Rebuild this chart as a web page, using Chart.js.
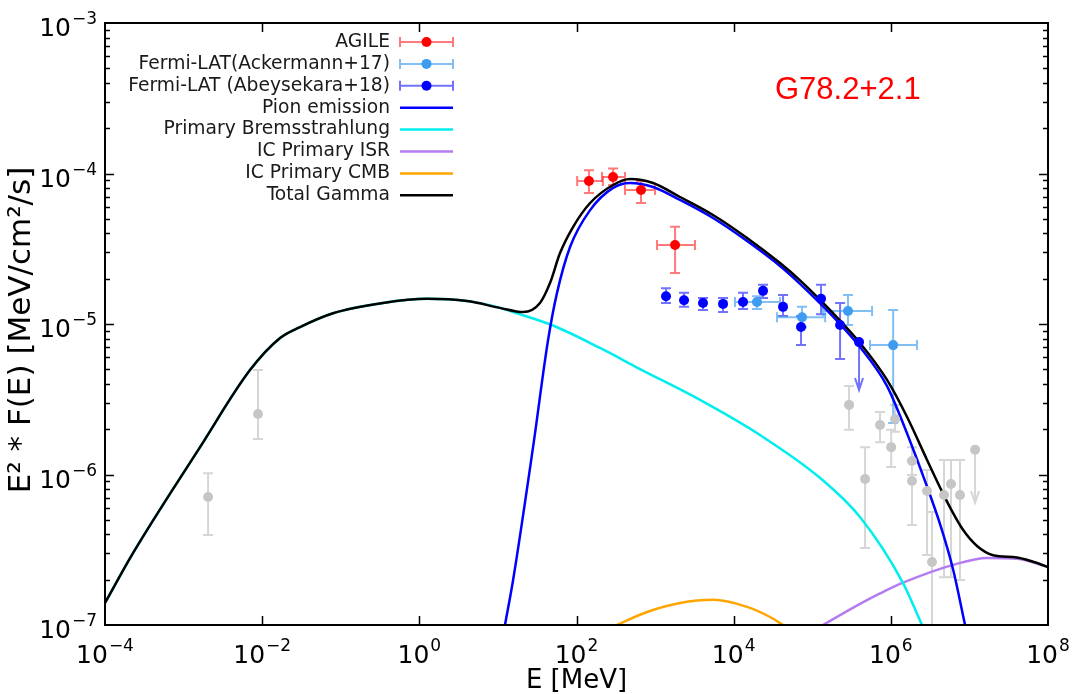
<!DOCTYPE html>
<html>
<head>
<meta charset="utf-8">
<title>G78.2+2.1 SED</title>
<script src="https://cdn.jsdelivr.net/npm/chart.js@4.4.1/dist/chart.umd.min.js"></script>
<style>
  html, body { margin: 0; padding: 0; background: #fff; }
</style>
</head>
<body>
<canvas id="sed" width="1082" height="694"></canvas>
<script>
// ---- model curves (E in MeV, E^2 F(E) in MeV/cm2/s) ----
const totalE = [1e-4, 2.27e-4, 1.62e-3, 7.0e-3, 1.69e-2, 3.03e-2, 7.98e-2, 0.345, 1.25, 4.05, 10.6, 20.9, 34.3, 46, 61.7, 90.3, 149, 292, 480, 942, 2076, 5460, 1.48e4, 3.89e4, 6.99e4, 1.84e5, 4.05e5, 8.95e5, 1.61e6, 2.89e6, 4.23e6, 5.67e6, 8.29e6, 1.25e7, 2.0e7, 4.03e7, 6.45e7, 1e8];
const totalF = [1.40e-7, 3.0e-7, 1.52e-6, 4.94e-6, 8.07e-6, 9.55e-6, 1.18e-5, 1.38e-5, 1.47e-5, 1.42e-5, 1.28e-5, 1.20e-5, 1.38e-5, 1.87e-5, 2.96e-5, 4.41e-5, 6.37e-5, 8.39e-5, 9.19e-5, 8.65e-5, 6.98e-5, 5.30e-5, 3.73e-5, 2.54e-5, 1.95e-5, 1.18e-5, 7.48e-6, 4.25e-6, 2.41e-6, 1.25e-6, 8.2e-7, 6.04e-7, 4.29e-7, 3.35e-7, 2.91e-7, 2.81e-7, 2.63e-7, 2.43e-7];

const pionE = [12.3, 15.6, 28.0, 43.5, 56.5, 82.8, 149, 292, 480, 942, 2076, 5460, 1.48e4, 3.89e4, 6.99e4, 1.84e5, 4.05e5, 8.95e5, 1.43e6, 2.89e6, 4.23e6, 6.2e6, 8.8e6];
const pionF = [1e-7, 1.99e-7, 1.52e-6, 7.84e-6, 1.61e-5, 3.25e-5, 5.71e-5, 8.02e-5, 8.65e-5, 8.13e-5, 6.67e-5, 5.06e-5, 3.56e-5, 2.43e-5, 1.85e-5, 1.12e-5, 7.03e-6, 3.87e-6, 2.19e-6, 8.3e-7, 4.68e-7, 2.34e-7, 1e-7];

const bremsE = [1e-4, 2.27e-4, 1.62e-3, 7.0e-3, 1.69e-2, 3.03e-2, 7.98e-2, 0.345, 1.25, 4.05, 10.6, 15.6, 50.2, 199, 643, 3733, 2.16e4, 1.26e5, 4.05e5, 1.43e6, 2.49e6];
const bremsF = [1.40e-7, 3.0e-7, 1.52e-6, 4.94e-6, 8.07e-6, 9.55e-6, 1.18e-5, 1.38e-5, 1.47e-5, 1.42e-5, 1.28e-5, 1.20e-5, 9.77e-6, 6.93e-6, 5.02e-6, 3.13e-6, 1.83e-6, 9.48e-7, 5.22e-7, 1.90e-7, 1e-7];

const isrE = [1.37e5, 4.05e5, 7.29e5, 1.43e6, 6.2e6, 1.68e7, 4.03e7, 1e8];
const isrF = [1e-7, 1.38e-7, 1.62e-7, 1.91e-7, 2.51e-7, 2.79e-7, 2.75e-7, 2.43e-7];

const cmbE = [328, 789, 2076, 5460, 1.48e4, 2.9e4, 4.25e4];
const cmbF = [1e-7, 1.22e-7, 1.40e-7, 1.47e-7, 1.32e-7, 1.13e-7, 1e-7];

// ---- measured points ----
const agileE = [144, 292, 662, 1795];
const agileF = [8.91e-5, 9.48e-5, 7.76e-5, 3.35e-5];
const agileElo = [102, 211, 414, 1059];
const agileEhi = [217, 414, 998, 3220];
const agileFlo = [7.41e-5, 8.39e-5, 6.37e-5, 2.18e-5];
const agileFhi = [1.05e-4, 1.08e-4, 8.91e-5, 4.42e-5];

const ackE = [1.98e4, 7.41e4, 2.85e5, 1.07e6];
const ackF = [1.40e-5, 1.11e-5, 1.22e-5, 7.24e-6];
const ackElo = [1.04e4, 3.56e4, 1.37e5, 5.43e5];
const ackEhi = [3.89e4, 1.46e5, 5.77e5, 2.15e6];
const ackFlo = [1.26e-5, 9.5e-6, 9.84e-6, 2.2e-6];
const ackFhi = [1.53e-5, 1.3e-5, 1.56e-5, 1.24e-5];

const abeyE = [1377, 2335, 4074, 7323, 1.316e4, 2.364e4, 4.25e4, 7.2e4, 1.294e5, 2.26e5];
const abeyF = [1.53e-5, 1.44e-5, 1.38e-5, 1.36e-5, 1.40e-5, 1.66e-5, 1.30e-5, 9.55e-6, 1.47e-5, 9.84e-6];
const abeyFlo = [1.38e-5, 1.30e-5, 1.24e-5, 1.20e-5, 1.26e-5, 1.49e-5, 1.13e-5, 7.24e-6, 1.16e-5, 5.85e-6];
const abeyFhi = [1.73e-5, 1.61e-5, 1.49e-5, 1.49e-5, 1.61e-5, 1.82e-5, 1.56e-5, 1.13e-5, 1.82e-5, 1.38e-5];
const abeyUlE = [3.94e5];
const abeyUlF = [7.58e-6];
const abeyUlTo = [3.64e-6];

// grey points (other instruments, not in legend)
const greyE = [2.05e-3, 8.85e-3, 2.94e5, 4.70e5, 7.29e5, 1.01e6, 1.13e6, 1.86e6, 1.86e6, 2.89e6, 3.34e6, 4.75e6, 5.83e6, 7.59e6];
const greyF = [7.08e-7, 2.52e-6, 2.90e-6, 9.33e-7, 2.13e-6, 1.52e-6, 2.34e-6, 1.23e-6, 9.05e-7, 7.77e-7, 2.62e-7, 7.31e-7, 8.65e-7, 7.31e-7];
const greyFlo = [3.96e-7, 1.72e-6, 1.98e-6, 3.25e-7, 1.64e-6, 1.12e-6, 1.92e-6, 9.93e-7, 4.62e-7, 2.92e-7, 5e-8, 2.08e-7, 2.08e-7, 1.99e-7];
const greyFhi = [1.02e-6, 4.94e-6, 3.87e-6, 1.52e-6, 2.60e-6, 1.98e-6, 2.90e-6, 1.52e-6, 1.25e-6, 1.07e-6, 5.64e-7, 1.25e-6, 1.25e-6, 1.25e-6];
const greyUlE = [1.18e7];
const greyUlF = [1.46e-6];
const greyUlTo = [6.47e-7];

// axis ticks
const xTickExps = [-4, -2, 0, 2, 4, 6, 8];
const yTickExps = [-7, -6, -5, -4, -3];

const pts = (E, F) => E.map((e, i) => ({ x: e, y: F[i] }));

const colors = {
    agile: '#ff0000', agileBar: 'rgba(255,50,50,0.65)',
    ack: '#3d9cf0', ackBar: 'rgba(61,156,240,0.65)',
    abey: '#0000ff', abeyBar: 'rgba(20,20,255,0.6)',
    grey: '#c6c6c6', greyBar: '#d6d6d6',
    total: '#000000', pion: '#0000ff', brems: '#00eeee', isr: '#b47cf0', cmb: '#ffa500'
};

// error bars and upper limits, drawn through the chart scales
const errorSets = [
    { E: greyE, F: greyF, Flo: greyFlo, Fhi: greyFhi, color: colors.greyBar, ulE: greyUlE, ulF: greyUlF, ulTo: greyUlTo },
    { E: abeyE, F: abeyF, Flo: abeyFlo, Fhi: abeyFhi, color: colors.abeyBar, ulE: abeyUlE, ulF: abeyUlF, ulTo: abeyUlTo },
    { E: ackE, F: ackF, Elo: ackElo, Ehi: ackEhi, Flo: ackFlo, Fhi: ackFhi, color: colors.ackBar },
    { E: agileE, F: agileF, Elo: agileElo, Ehi: agileEhi, Flo: agileFlo, Fhi: agileFhi, color: colors.agileBar }
];

const errorBars = {
    id: 'errorBars',
    beforeDatasetsDraw(chart) {
        const { ctx, chartArea: a, scales: { x, y } } = chart;
        ctx.save();
        ctx.beginPath();
        ctx.rect(a.left, a.top, a.right - a.left, a.bottom - a.top);
        ctx.clip();
        ctx.lineWidth = 2;
        const cap = 5;
        errorSets.forEach(s => {
            ctx.strokeStyle = s.color;
            s.E.forEach((e, i) => {
                const px = x.getPixelForValue(e);
                const py = y.getPixelForValue(s.F[i]);
                ctx.beginPath();
                const yl = y.getPixelForValue(s.Flo[i]);
                const yh = y.getPixelForValue(s.Fhi[i]);
                ctx.moveTo(px, yl); ctx.lineTo(px, yh);
                ctx.moveTo(px - cap, yl); ctx.lineTo(px + cap, yl);
                ctx.moveTo(px - cap, yh); ctx.lineTo(px + cap, yh);
                if (s.Elo) {
                    const xl = x.getPixelForValue(s.Elo[i]);
                    const xh = x.getPixelForValue(s.Ehi[i]);
                    ctx.moveTo(xl, py); ctx.lineTo(xh, py);
                    ctx.moveTo(xl, py - cap); ctx.lineTo(xl, py + cap);
                    ctx.moveTo(xh, py - cap); ctx.lineTo(xh, py + cap);
                }
                ctx.stroke();
            });
            (s.ulE || []).forEach((e, i) => {
                const px = x.getPixelForValue(e);
                const py = y.getPixelForValue(s.ulF[i]);
                const pt = y.getPixelForValue(s.ulTo[i]);
                ctx.beginPath();
                ctx.moveTo(px, py); ctx.lineTo(px, pt);
                ctx.moveTo(px - 4, pt - 12); ctx.lineTo(px, pt); ctx.lineTo(px + 4, pt - 12);
                ctx.stroke();
            });
        });
        ctx.restore();
    }
};

// frame, inward ticks, tick labels, titles and legend
const frame = {
    id: 'frame',
    afterDraw(chart) {
        const { ctx, chartArea: a, scales: { x, y } } = chart;
        ctx.save();
        ctx.strokeStyle = '#000';
        ctx.lineWidth = 2;
        ctx.strokeRect(a.left, a.top, a.right - a.left, a.bottom - a.top);

        ctx.lineWidth = 1.5;
        ctx.beginPath();
        xTickExps.forEach(ex => {
            const px = Math.round(x.getPixelForValue(Math.pow(10, ex))) + 0.5;
            if (px <= a.left + 1 || px >= a.right - 1) return;
            ctx.moveTo(px, a.bottom); ctx.lineTo(px, a.bottom - 9);
            ctx.moveTo(px, a.top); ctx.lineTo(px, a.top + 9);
        });
        for (let ex = -7; ex < -3; ex++) {
            for (let k = 1; k <= 9; k++) {
                if (k === 1 && ex === -7) continue;
                const py = Math.round(y.getPixelForValue(k * Math.pow(10, ex))) + 0.5;
                const len = k === 1 ? 9 : 5;
                ctx.moveTo(a.left, py); ctx.lineTo(a.left + len, py);
                ctx.moveTo(a.right, py); ctx.lineTo(a.right - len, py);
            }
        }
        ctx.stroke();

        // tick labels 10^n
        ctx.fillStyle = '#000';
        const base = '25px "DejaVu Sans"';
        const sup = '17px "DejaVu Sans"';
        const label = (ex, cx, baseY, align) => {
            ctx.font = base;
            const w1 = ctx.measureText('10').width;
            ctx.font = sup;
            const s = ex < 0 ? '\u2212' + (-ex) : String(ex);
            const w2 = ctx.measureText(s).width;
            const x0 = align === 'right' ? cx - w1 - w2 - 1 : cx - (w1 + w2 + 1) / 2;
            ctx.textAlign = 'left';
            ctx.textBaseline = 'alphabetic';
            ctx.font = base;
            ctx.fillText('10', x0, baseY);
            ctx.font = sup;
            ctx.fillText(s, x0 + w1 + 1, baseY - 12);
        };
        yTickExps.forEach(ex => label(ex, a.left - 8, y.getPixelForValue(Math.pow(10, ex)) + 13, 'right'));
        xTickExps.forEach(ex => label(ex, x.getPixelForValue(Math.pow(10, ex)), a.bottom + 38, 'center'));

        // axis titles
        ctx.font = '26px "DejaVu Sans"';
        ctx.textAlign = 'center';
        ctx.fillText('E [MeV]', (a.left + a.right) / 2, 688);
        ctx.save();
        ctx.font = '31px "DejaVu Sans"';
        ctx.translate(22, (a.top + a.bottom) / 2 + 6);
        ctx.rotate(-Math.PI / 2);
        ctx.textBaseline = 'middle';
        ctx.fillText('E\u00b2 * F(E) [MeV/cm\u00b2/s]', 0, 0);
        ctx.restore();

        // source name
        ctx.fillStyle = '#ff0000';
        ctx.font = '31px "Liberation Sans"';
        ctx.textAlign = 'left';
        ctx.textBaseline = 'alphabetic';
        ctx.fillText('G78.2+2.1', 775, 99);

        // legend
        const order = [0, 1, 2, 5, 6, 7, 8, 4];
        ctx.font = '18.7px "DejaVu Sans"';
        ctx.textAlign = 'right';
        ctx.textBaseline = 'middle';
        order.forEach((di, row) => {
            const ds = chart.data.datasets[di];
            const ly = 42 + row * 21.9;
            ctx.fillStyle = '#1a1a1a';
            ctx.fillText(ds.label, 390, ly);
            if (ds.showLine === false) {
                ctx.strokeStyle = ds.barColor;
                ctx.lineWidth = 2;
                ctx.beginPath();
                ctx.moveTo(400, ly); ctx.lineTo(453, ly);
                ctx.moveTo(400, ly - 5); ctx.lineTo(400, ly + 5);
                ctx.moveTo(453, ly - 5); ctx.lineTo(453, ly + 5);
                ctx.stroke();
                ctx.fillStyle = ds.backgroundColor;
                ctx.beginPath();
                ctx.arc(426.5, ly, 5, 0, Math.PI * 2);
                ctx.fill();
            } else {
                ctx.strokeStyle = ds.borderColor;
                ctx.lineWidth = 2.5;
                ctx.beginPath();
                ctx.moveTo(400, ly); ctx.lineTo(453, ly);
                ctx.stroke();
            }
        });
        ctx.restore();
    }
};

const scatterSet = (label, data, color, barColor) => ({
    label, data, showLine: false, barColor,
    backgroundColor: color, borderColor: color,
    pointRadius: 5, pointBorderWidth: 0, pointHoverRadius: 5
});
const lineSet = (label, data, color) => ({
    label, data, showLine: true,
    borderColor: color, backgroundColor: color,
    borderWidth: 2.5, pointRadius: 0, fill: false,
    cubicInterpolationMode: 'monotone'
});

new Chart(document.getElementById('sed'), {
    type: 'scatter',
    data: {
        datasets: [
            scatterSet('AGILE', pts(agileE, agileF), colors.agile, colors.agileBar),
            scatterSet('Fermi-LAT(Ackermann+17)', pts(ackE, ackF), colors.ack, colors.ackBar),
            scatterSet('Fermi-LAT (Abeysekara+18)', pts(abeyE.concat(abeyUlE), abeyF.concat(abeyUlF)), colors.abey, colors.abeyBar),
            scatterSet('', pts(greyE.concat(greyUlE), greyF.concat(greyUlF)), colors.grey, colors.greyBar),
            lineSet('Total Gamma', pts(totalE, totalF), colors.total),
            lineSet('Pion emission', pts(pionE, pionF), colors.pion),
            lineSet('Primary Bremsstrahlung', pts(bremsE, bremsF), colors.brems),
            lineSet('IC Primary ISR', pts(isrE, isrF), colors.isr),
            lineSet('IC Primary CMB', pts(cmbE, cmbF), colors.cmb)
        ]
    },
    options: {
        responsive: false,
        animation: false,
        devicePixelRatio: 1,
        layout: { padding: { left: 105, right: 34, top: 23, bottom: 69 } },
        scales: {
            x: { type: 'logarithmic', min: 1e-4, max: 1e8, display: false },
            y: { type: 'logarithmic', min: 1e-7, max: 1e-3, display: false }
        },
        plugins: {
            legend: { display: false },
            tooltip: { enabled: false }
        }
    },
    plugins: [errorBars, frame]
});
</script>
</body>
</html>
